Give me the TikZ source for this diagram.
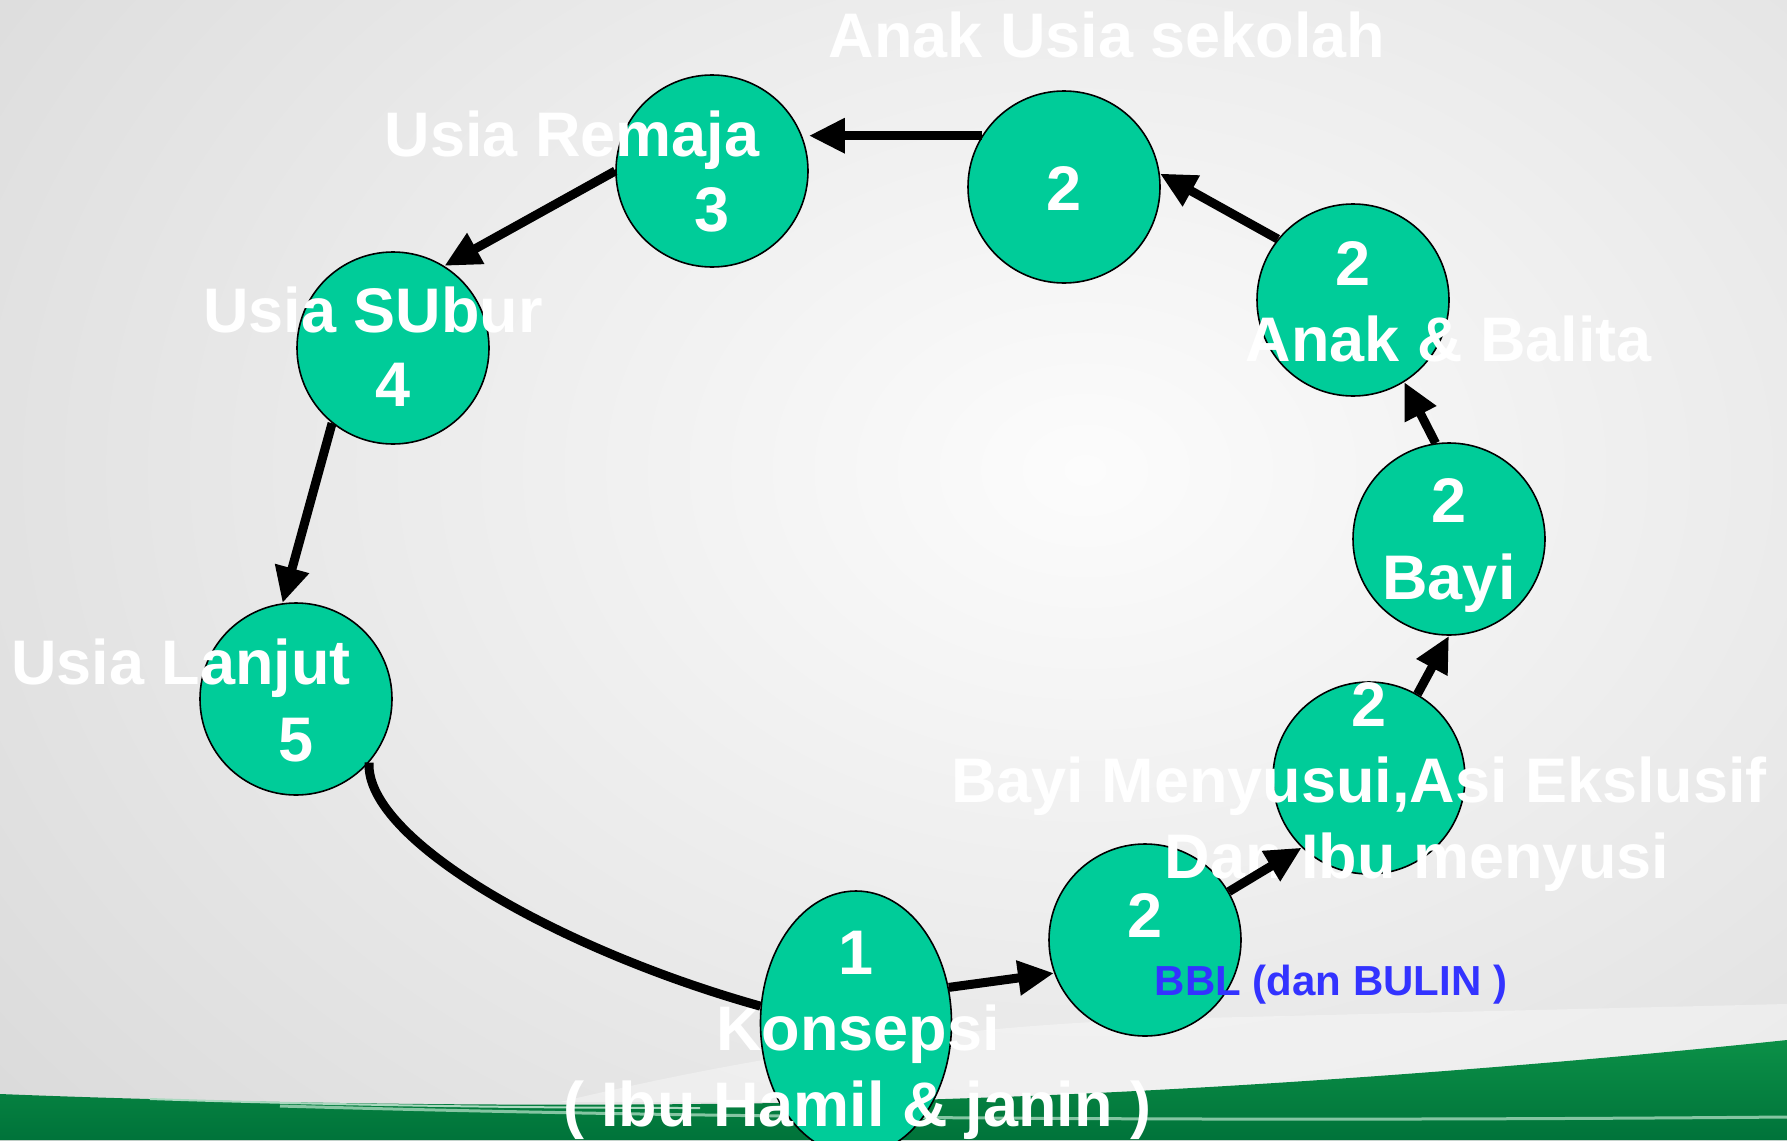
\documentclass[tikz,border=0pt]{standalone}
\usepackage{fontspec}
\setmainfont{Liberation Sans}
\usetikzlibrary{arrows.meta,shapes.geometric}
\definecolor{stagefill}{HTML}{00CC99}
\definecolor{bbltext}{HTML}{3333FF}
\definecolor{bgedge}{HTML}{D8D8D8}
\definecolor{bgcenter}{HTML}{FCFCFC}
\definecolor{bandtop}{HTML}{0B9047}
\definecolor{bandlow}{HTML}{00733A}
\begin{document}
\begin{tikzpicture}[x=1pt,y=-1pt,
  stage/.style={circle,draw=black,line width=1.6pt,fill=stagefill,minimum size=192pt,inner sep=0pt},
  lbl/.style={text=white,font=\bfseries\fontsize{63}{70}\selectfont,anchor=base,inner sep=0pt},
  note/.style={text=bbltext,font=\bfseries\fontsize{42}{48}\selectfont,anchor=base,inner sep=0pt},
  flow/.style={line width=9pt,-{Triangle[length=36pt,width=33pt]}},
  link/.style={line width=9pt}]

% background
\useasboundingbox (0,0) rectangle (1787,1140);
\fill[bgedge] (0,0) rectangle (1787,1140);
\begin{scope}
  \clip (0,0) rectangle (1787,1140);
  \shade[inner color=bgcenter, outer color=bgedge] (1085,470) ellipse (1500 and 1100);
  % pale swoosh above the green band
  \fill[white,opacity=0.35] (560,1102) .. controls (800,1045) and (1000,1022) .. (1200,1018)
    -- (1787,1004) -- (1787,1100) -- cycle;
  % green band
  \shade[top color=bandtop, bottom color=bandlow]
    (0,1094) .. controls (300,1106) and (700,1109) .. (1000,1097)
    .. controls (1250,1088) and (1550,1065) .. (1787,1040)
    -- (1787,1140) -- (0,1140) -- cycle;
  \draw[line width=2pt, color=white!65!bandtop] (150,1099) .. controls (300,1104) and (500,1108) .. (700,1108);
  \draw[line width=3pt, color=white!60!bandtop, opacity=0.85]
    (280,1106) .. controls (700,1118) and (1200,1122) .. (1787,1117);
\end{scope}

% stages
\node[ellipse,draw=black,line width=1.6pt,fill=stagefill,minimum width=191pt,minimum height=264pt,inner sep=0pt] (k) at (856,1023) {};
\node[stage] (bbl) at (1145,940) {};
\node[stage] (bm)  at (1369,778) {};
\node[stage] (bayi) at (1449,539) {};
\node[stage] (ab)  at (1353,300) {};
\node[stage] (as)  at (1064,187) {};
\node[stage] (rem) at (712,171) {};
\node[stage] (sub) at (393,348) {};
\node[stage] (lan) at (296,699) {};

% labels
\node[lbl] (t-as-h) at (1107,58) {Anak Usia sekolah};
\node[lbl] (t-as) at (1064,210) {2};
\node[lbl] (t-rem-h) at (572,156) {Usia Remaja};
\node[lbl] (t-rem) at (712,231) {3};
\node[lbl] (t-sub-h) at (373,332) {Usia SUbur};
\node[lbl] (t-sub) at (393,406) {4};
\node[lbl] (t-lan-h) at (181,684) {Usia Lanjut};
\node[lbl] (t-lan) at (296,761) {5};
\node[lbl] (t-k) at (856,974) {1};
\node[lbl] (t-k-h) at (858,1050) {Konsepsi};
\node[lbl] (t-k-s) at (857,1126) {( Ibu Hamil \& janin )};
\node[lbl] (t-bbl) at (1145,937) {2};
\node[note] (t-bbl-s) at (1331,995) {BBL (dan BULIN )};
\node[lbl] (t-bm) at (1369,726) {2};
\node[lbl] (t-bm-h) at (1359,802) {Bayi Menyusui,Asi Ekslusif};
\node[lbl] (t-bm-s) at (1417,878) {Dan Ibu menyusi};
\node[lbl] (t-bayi) at (1449,522) {2};
\node[lbl] (t-bayi-h) at (1449,599) {Bayi};
\node[lbl] (t-ab) at (1353,285) {2};
\node[lbl] (t-ab-h) at (1449,361) {Anak \& Balita};

% connectors
\draw[flow] (k.21) -- (bbl.200);
\draw[flow] (bbl.30) -- (bm.226);
\draw[flow] (bm.60) -- (bayi.270);
\draw[flow] (bayi.98) -- (ab.302);
\draw[flow] (ab.141) -- (as.8);
\draw[flow] (as.148) -- (as.148 -| rem.east);
\draw[flow] (rem.180) -- (sub.58);
\draw[flow] (sub.231) -- (lan.98);
\draw[link] (lan.319) .. controls (365,840) and (560,950) .. (k.170);
\end{tikzpicture}
\end{document}
